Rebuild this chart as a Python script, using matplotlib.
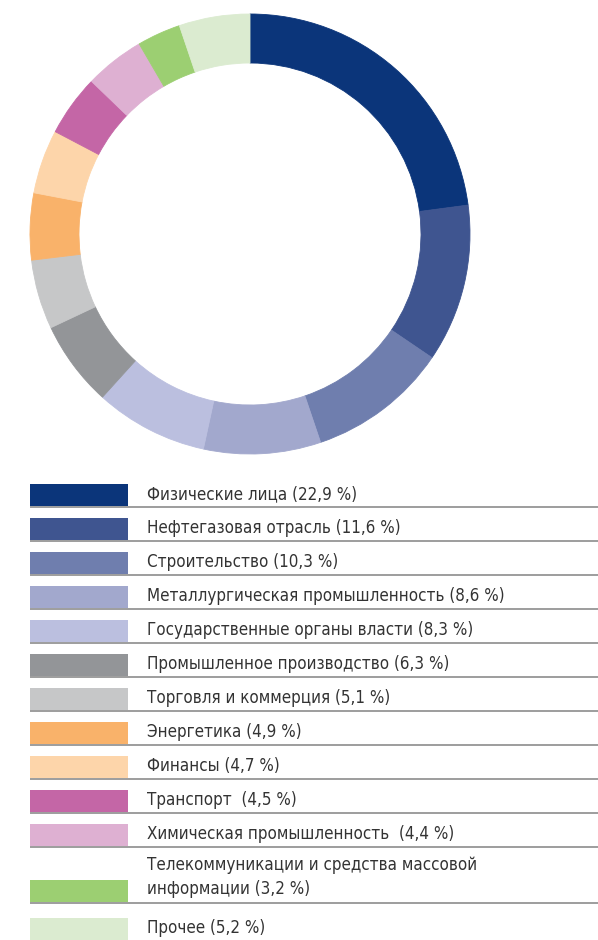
import matplotlib
matplotlib.use('Agg')
import matplotlib.pyplot as plt
from matplotlib.patches import Rectangle

labels = ['Физические лица (22,9 %)',
          'Нефтегазовая отрасль (11,6 %)',
          'Строительство (10,3 %)',
          'Металлургическая промышленность (8,6 %)',
          'Государственные органы власти (8,3 %)',
          'Промышленное производство (6,3 %)',
          'Торговля и коммерция (5,1 %)',
          'Энергетика (4,9 %)',
          'Финансы (4,7 %)',
          'Транспорт  (4,5 %)',
          'Химическая промышленность  (4,4 %)',
          'Телекоммуникации и средства массовой\nинформации (3,2 %)',
          'Прочее (5,2 %)']
values = [22.9, 11.6, 10.3, 8.6, 8.3, 6.3, 5.1, 4.9, 4.7, 4.5, 4.4, 3.2, 5.2]
colors = ['#0b357a', '#3f5590', '#6f7eae', '#a2a8cd', '#bbbfdf', '#939598',
          '#c6c7c8', '#f9b26a', '#fdd5aa', '#c466a6', '#deb0d2', '#9ccf72',
          '#dbebd0']

W, H = 598, 940
fig = plt.figure(figsize=(W / 100, H / 100), dpi=100)
ax = fig.add_axes([0, 0, 1, 1])

# donut
wedges, _ = ax.pie(values, colors=colors, startangle=90, counterclock=False,
                   center=(250, H - 234), radius=220,
                   wedgeprops=dict(width=49, linewidth=0.6))
for w, c in zip(wedges, colors):
    w.set_edgecolor(c)

# legend rows
tops = [484 + 34 * i for i in range(11)] + [880, 918]
font = dict(fontsize=12.2, family='DejaVu Sans', stretch='condensed', color='#333333')
for i, (lab, col) in enumerate(zip(labels, colors)):
    top = tops[i]
    ax.add_patch(Rectangle((30, H - top - 22), 98, 22, facecolor=col, edgecolor='none'))
    if i < len(labels) - 1:
        ax.plot([30, W], [H - top - 23, H - top - 23], color='#8c8c8c', lw=1.2,
                solid_capstyle='butt')
    if '\n' in lab:
        ax.text(147, H - top + 3, lab, va='center', linespacing=1.42, **font)
    else:
        ax.text(147, H - top - 10, lab, va='center', **font)

ax.set_xlim(0, W)
ax.set_ylim(0, H)
ax.set_aspect('auto')
ax.axis('off')
fig.savefig('out.png', dpi=100)
